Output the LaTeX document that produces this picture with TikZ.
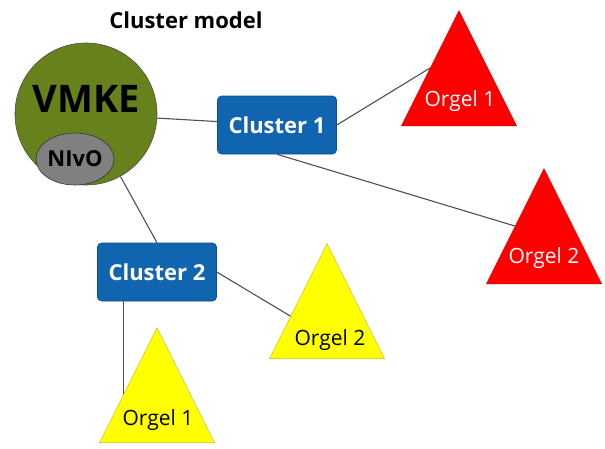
\documentclass[tikz,border=0pt]{standalone}
\usepackage{fontspec}
\setmainfont{Open Sans}
\usetikzlibrary{shapes,arrows}
\usetikzlibrary{positioning,calc}
\definecolor{vmkegreen}{RGB}{103,130,28}
\definecolor{clusterblue}{RGB}{16,100,176}
\definecolor{orgelred}{RGB}{255,0,0}
\definecolor{orgelyellow}{RGB}{255,255,0}
\definecolor{linegray}{RGB}{80,80,80}

\begin{document}
\begin{tikzpicture}[x=1pt, y=-1pt, semithick]
\tikzstyle{cluster}=[rectangle, rounded corners=4pt, fill=clusterblue, draw=clusterblue!80!black, text=white, font=\bfseries\fontsize{22}{22}\selectfont, minimum width=119pt, minimum height=58pt]
\tikzstyle{orgel}=[isosceles triangle, isosceles triangle stretches, shape border rotate=90, minimum width=115pt, minimum height=115pt, inner sep=0pt]
\tikzstyle{redorgel}=[orgel, fill=orgelred, draw=orgelred!85!black]
\tikzstyle{yelorgel}=[orgel, fill=orgelyellow, draw=orgelyellow!55!gray]
\tikzstyle{orgeltext}=[anchor=base, font=\fontsize{21}{21}\selectfont]
\tikzstyle{link}=[draw=linegray, line width=1.1pt]
\useasboundingbox (0,0) rectangle (605,448);

\node[font=\bfseries\fontsize{22}{22}\selectfont, anchor=base] (title) at (186,28) {Cluster model};
\node[circle, fill=vmkegreen, draw=gray!60!black, minimum size=142pt, inner sep=0pt] (vmke) at (86,114) {};
\node[font=\bfseries\fontsize{38}{38}\selectfont, anchor=base] (vmketxt) at (86,112) {VMKE};
\node[ellipse, fill=gray, draw=gray!40!black, minimum width=75pt, minimum height=52pt, inner sep=0pt,
      font=\bfseries\fontsize{22}{22}\selectfont] (nivo) at (75,159) {NIvO};

\node[cluster] (c1) at (277,125) {Cluster 1};
\node[cluster] (c2) at (157,272) {Cluster 2};

\node[redorgel, anchor=apex] (r1) at (459,10) {};
\node[orgeltext, text=white] (r1txt) at (460,106) {Orgel 1};
\node[redorgel, anchor=apex] (r2) at (544,168) {};
\node[orgeltext, text=white] (r2txt) at (544,263) {Orgel 2};
\node[yelorgel, anchor=apex] (y2) at (327,243) {};
\node[orgeltext, text=black] (y2txt) at (330,345) {Orgel 2};
\node[yelorgel, anchor=apex] (y1) at (157,327) {};
\node[orgeltext, text=black] (y1txt) at (158,425) {Orgel 1};

\coordinate (y1foot) at ($(y1.apex)!0.58!(y1.left corner)$);
\coordinate (y2foot) at ($(y2.apex)!0.63!(y2.left corner)$);

\path[link]
(vmke)    edge (c1)
          edge (c2.north)
(c1.east) edge (r1.left side)
(c1.south) edge (r2.left side)
(c2.east) edge (y2foot)
(c2.south -| y1foot) edge (y1foot);
\end{tikzpicture}
\end{document}
